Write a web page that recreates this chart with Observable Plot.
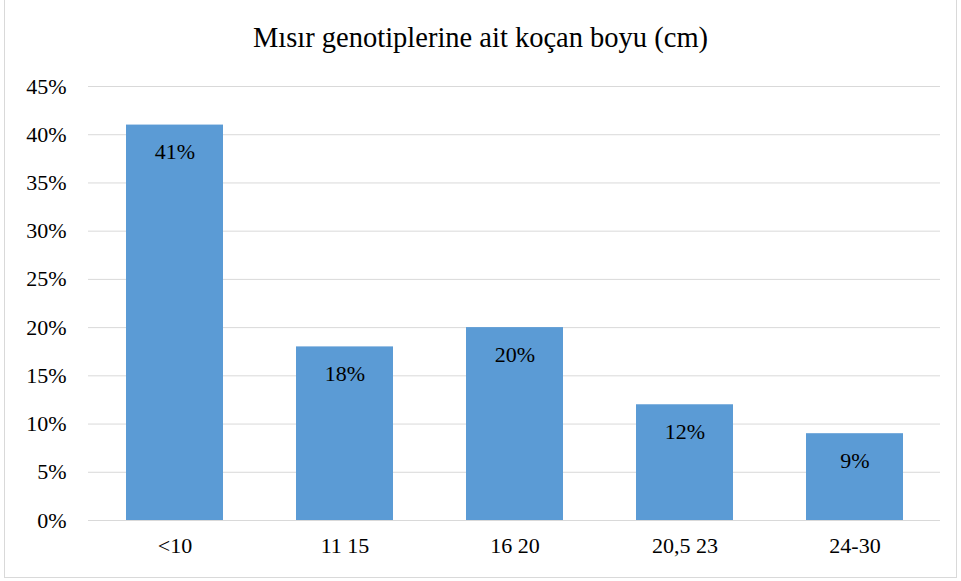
<!DOCTYPE html>
<html>
<head>
<meta charset="utf-8">
<script src="https://cdn.jsdelivr.net/npm/d3@7"></script>
<script src="https://cdn.jsdelivr.net/npm/@observablehq/plot@0.6"></script>
<style>
  html, body { margin: 0; padding: 0; background: #fff; }
  .frame { position: absolute; left: 4px; top: -1px; width: 951px; height: 577px; border: 1px solid #d9d9d9; background: #fff; }
  .title { position: absolute; left: 0; width: 951px; top: 22px; text-align: center; font-family: "Liberation Serif", "Times New Roman", serif; font-size: 28.5px; line-height: 32px; color: #000; }
  #chart { position: absolute; left: 0; top: 1px; }
</style>
</head>
<body>
<div class="frame">
  <div class="title">Mısır genotiplerine ait koçan boyu (cm)</div>
  <div id="chart"></div>
</div>
<script>
const categories = ["<10", "11 15", "16 20", "20,5 23", "24-30"];
const values = [0.41, 0.18, 0.20, 0.12, 0.09];
const yTicks = [0, 0.05, 0.10, 0.15, 0.20, 0.25, 0.30, 0.35, 0.40, 0.45];

const data = categories.map((c, i) => ({ cat: c, value: values[i] }));

const chart = Plot.plot({
  width: 950,
  height: 569,
  marginTop: 85,
  marginBottom: 50,
  marginLeft: 83,
  marginRight: 15,
  style: { fontFamily: "'Liberation Serif', 'Times New Roman', serif", fontSize: "22px", color: "#000", background: "transparent" },
  x: { domain: categories, paddingInner: 0.43, paddingOuter: 0.215, label: null, tickSize: 0, tickPadding: 17 },
  y: { domain: [0, 0.45], ticks: yTicks, tickFormat: d => Math.round(d * 100) + "%", label: null, tickSize: 0, tickPadding: 22 },
  marks: [
    Plot.gridY(yTicks, { stroke: "#d9d9d9", strokeOpacity: 1, strokeWidth: 1 }),
    Plot.barY(data, { x: "cat", y: "value", fill: "#5B9BD5" }),
    Plot.text(data, { x: "cat", y: "value", text: d => Math.round(d.value * 100) + "%", dy: 27, fill: "#000", fontSize: 22 })
  ]
});
document.getElementById("chart").appendChild(chart);
</script>
</body>
</html>
